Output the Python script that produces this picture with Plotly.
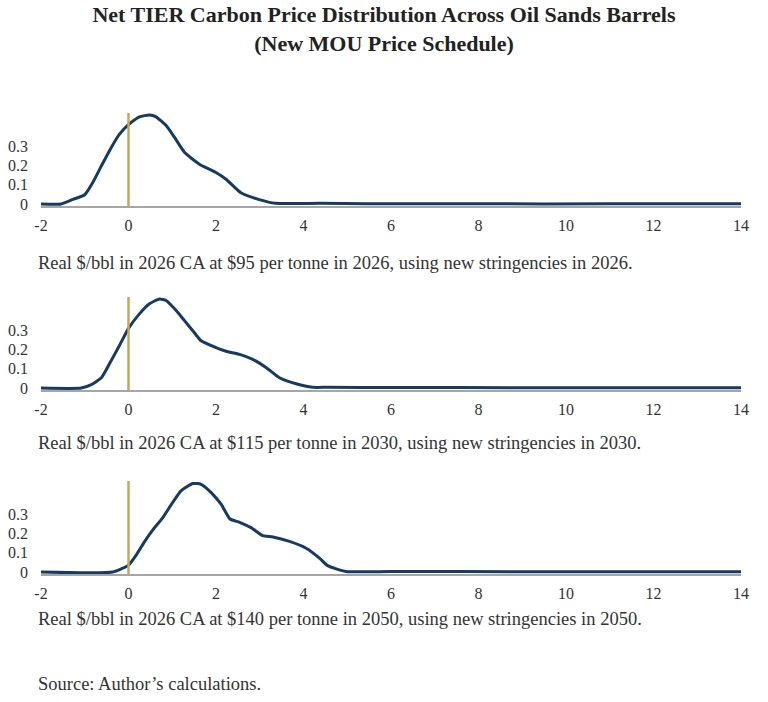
import plotly.graph_objects as go

# distribution curves (x in $/bbl, y density)
x_2026 = [-2.0, -1.54, -1.27, -1.0, -0.82, -0.62, -0.40, -0.21, 0.0, 0.25, 0.48, 0.63, 0.86, 1.05,
          1.28, 1.62, 2.0, 2.23, 2.57, 2.99, 3.36, 4.37, 5.43, 8.0, 11.0, 14.0]
y_2026 = [0.0, 0.0, 0.024, 0.048, 0.11, 0.197, 0.29, 0.36, 0.41, 0.45, 0.46, 0.45, 0.405, 0.345,
          0.267, 0.206, 0.163, 0.128, 0.058, 0.023, 0.004, 0.004, 0.002, 0.001, 0.001, 0.001]

x_2030 = [-2.0, -1.08, -0.85, -0.62, -0.40, -0.21, 0.0, 0.25, 0.48, 0.71, 0.86, 1.09, 1.28, 1.47,
          1.66, 2.0, 2.23, 2.54, 2.84, 3.15, 3.45, 3.83, 4.21, 4.55, 6.0, 9.0, 14.0]
y_2030 = [0.0, 0.0, 0.018, 0.053, 0.14, 0.218, 0.308, 0.383, 0.435, 0.46, 0.452, 0.40, 0.348, 0.296,
          0.244, 0.209, 0.19, 0.174, 0.148, 0.105, 0.053, 0.022, 0.004, 0.004, 0.003, 0.002, 0.001]

x_2050 = [-2.0, -0.36, 0.0, 0.18, 0.37, 0.56, 0.78, 0.98, 1.2, 1.47, 1.66, 1.89, 2.12, 2.32, 2.54,
          2.81, 3.07, 3.3, 3.68, 4.06, 4.37, 4.55, 4.97, 6.0, 9.0, 14.0]
y_2050 = [0.0, 0.0, 0.036, 0.089, 0.158, 0.219, 0.28, 0.349, 0.419, 0.457, 0.453, 0.41, 0.349, 0.274,
          0.257, 0.228, 0.188, 0.181, 0.158, 0.123, 0.071, 0.033, 0.003, 0.003, 0.002, 0.001]

captions = [
    "Real $/bbl in 2026 CA at $95 per tonne in 2026, using new stringencies in 2026.",
    "Real $/bbl in 2026 CA at $115 per tonne in 2030, using new stringencies in 2030.",
    "Real $/bbl in 2026 CA at $140 per tonne in 2050, using new stringencies in 2050.",
]
x_ticks = [-2, 0, 2, 4, 6, 8, 10, 12, 14]
x_tick_labels = ["-2", "0", "2", "4", "6", "8", "10", "12", "14"]
y_ticks = [0, 0.1, 0.2, 0.3]
y_tick_labels = ["0", "0.1", "0.2", "0.3"]

NAVY = "#173b60"
GOLD = "#c9a45a"
FONT = "Liberation Serif"
H = 702

series = [(x_2026, y_2026), (x_2030, y_2030), (x_2050, y_2050)]
# (axis line px, top px) for each panel
panel_px = [(206, 113), (390, 297), (574, 481)]
caption_px = [263, 443, 619]


def py(p):
    return 1 - p / H


fig = go.Figure()
layout = {}
for i, ((xs, ys), (bot, top)) in enumerate(zip(series, panel_px)):
    n = "" if i == 0 else str(i + 1)
    fig.add_trace(go.Scatter(x=xs, y=ys, mode="lines", line=dict(color=NAVY, width=3, shape="spline", smoothing=0.5),
                             xaxis="x" + n, yaxis="y" + n, showlegend=False, hoverinfo="skip"))
    fig.add_trace(go.Scatter(x=[0, 0], y=[-0.01, 0.47], mode="lines", line=dict(color=GOLD, width=2.5),
                             xaxis="x" + n, yaxis="y" + n, showlegend=False, hoverinfo="skip"))
    layout["xaxis" + n] = dict(range=[-2, 14], tickvals=x_ticks, ticktext=x_tick_labels,
                               showgrid=False, zeroline=False,
                               showline=True, linecolor="#a6a6a6", linewidth=1.5, ticks="",
                               ticklabelstandoff=4, anchor="y" + n, automargin=False,
                               tickfont=dict(family=FONT, size=16, color="#333333"))
    layout["yaxis" + n] = dict(range=[-0.01, 0.47], tickvals=y_ticks, ticktext=y_tick_labels,
                               domain=[py(bot), py(top)], showgrid=False, zeroline=False,
                               showline=False, ticks="", ticklabelstandoff=12, anchor="x" + n,
                               automargin=False,
                               tickfont=dict(family=FONT, size=16, color="#333333"))
    fig.add_annotation(text=captions[i], xref="paper", yref="paper", x=-0.007, y=py(caption_px[i]),
                       xanchor="left", yanchor="middle", showarrow=False,
                       font=dict(family=FONT, size=18.5, color="#333333"))

fig.add_annotation(text="Source: Author’s calculations.", xref="paper", yref="paper", x=-0.007, y=py(684),
                   xanchor="left", yanchor="middle", showarrow=False,
                   font=dict(family=FONT, size=18.5, color="#333333"))

fig.update_layout(
    **layout,
    width=768, height=702,
    margin=dict(l=41, r=768 - 741, t=0, b=0),
    plot_bgcolor="white", paper_bgcolor="white",
    title=dict(text="<b>Net TIER Carbon Price Distribution Across Oil Sands Barrels</b><br>"
                    "<b>(New MOU Price Schedule)</b>",
               x=0.5, xanchor="center", y=1 - 22 / H, yanchor="middle",
               font=dict(family=FONT, size=22, color="#222222")),
)

# drop the default page margin so the figure sits at the window's corner
fig.write_html("out.html", config={"displayModeBar": False},
               post_script="document.body.style.margin='0';")
